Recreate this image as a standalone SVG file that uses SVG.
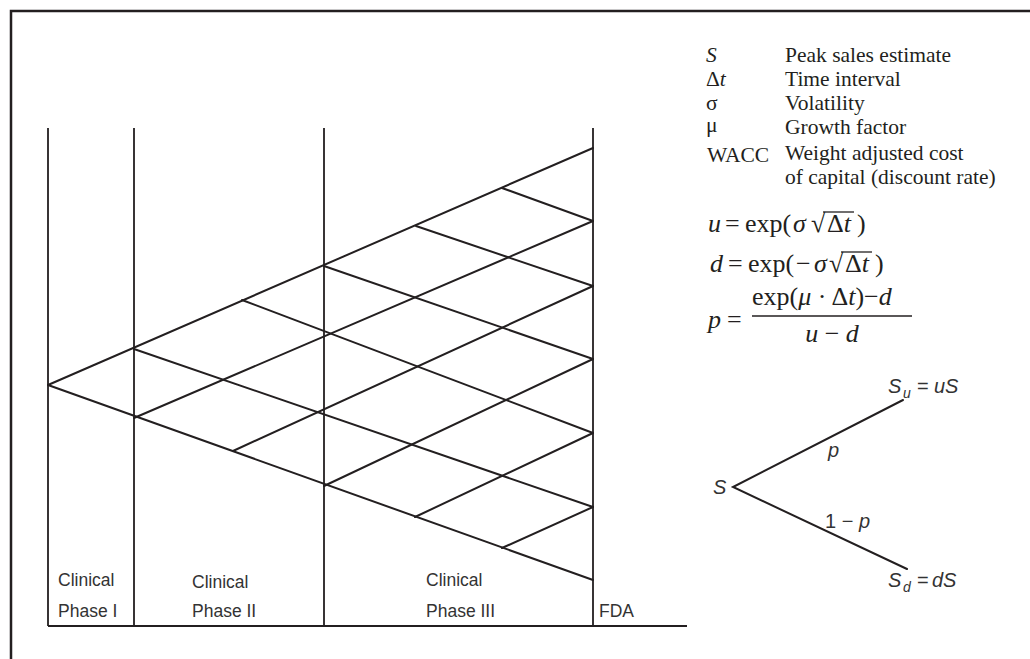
<svg xmlns="http://www.w3.org/2000/svg" width="1030" height="659" viewBox="0 0 1030 659">
<style>
.ln{stroke:#231f20;stroke-width:2;fill:none;stroke-linecap:round}
.vl{stroke:#231f20;stroke-width:1.8;fill:none}
.ser{font-family:"Liberation Serif","Times New Roman",serif;fill:#231f20}
.lg{font-size:21.5px}
.fm{font-size:26px}
.it{font-style:italic}
.sans{font-family:"Liberation Sans",Arial,sans-serif;fill:#333}
.ph{font-size:17.5px}
.tr{font-size:20px;font-style:italic}
.sub{font-size:14px}
.bar{stroke:#231f20;stroke-width:1.3}
</style>
<rect width="1030" height="659" fill="#fff"/>
<g id="frame">
<path d="M11,659 V11 H1030" stroke="#231f20" stroke-width="2.5" fill="none"/>
</g>
<g id="connectors">
<path class="vl" d="M48,128 V626 M134,128 V626 M324,128 V626 M593,128 V626"/>
<path class="vl" stroke-width="1.5" d="M48,626 H687"/>
<path class="ln" d="M48,385 L593,148 M134,418 L593,221 M233,451 L593,286 M324,486 L593,359 M415,517 L593,433 M502,548 L593,507"/>
<path class="ln" d="M48,385 L593,580 M134,349 L593,507 M242,300 L593,433 M324,266 L593,359 M416,226 L593,286 M502,188 L593,221"/>
<path class="ln" d="M903,400 L733,487 L907,569"/>
</g>
<g id="legend" class="ser lg">
<text x="706" y="62" class="it">S</text><text x="785" y="62">Peak sales estimate</text>
<text x="706" y="86">Δ<tspan class="it">t</tspan></text><text x="785" y="86">Time interval</text>
<text x="706" y="110">σ</text><text x="785" y="110">Volatility</text>
<text x="706" y="132">μ</text><text x="785" y="134">Growth factor</text>
<text x="707" y="162">WACC</text><text x="785" y="160">Weight adjusted cost</text>
<text x="785" y="184">of capital (discount rate)</text>
</g>
<g id="formula-u" class="ser fm">
<text x="708" y="232" class="it">u</text>
<text x="725" y="232">=</text>
<text x="745" y="232">exp(</text>
<text x="793" y="232" class="it">σ</text>
<text x="811" y="232">√</text>
<line class="bar" x1="823" y1="212" x2="854" y2="212"/>
<text x="827" y="232">Δ<tspan class="it">t</tspan></text>
<text x="857" y="232">)</text>
</g>
<g id="formula-d" class="ser fm">
<text x="710" y="272" class="it">d</text>
<text x="728" y="272">=</text>
<text x="748" y="272">exp(</text>
<text x="796" y="272">−</text>
<text x="814" y="272" class="it">σ</text>
<text x="829" y="272">√</text>
<line class="bar" x1="841" y1="252" x2="872" y2="252"/>
<text x="845" y="272">Δ<tspan class="it">t</tspan></text>
<text x="875" y="272">)</text>
</g>
<g id="formula-p" class="ser fm">
<text x="708" y="328" class="it">p</text>
<text x="727" y="328">=</text>
<text x="752" y="305">exp(<tspan class="it">μ</tspan> · Δ<tspan class="it">t</tspan>)−<tspan class="it">d</tspan></text>
<line class="bar" x1="752" y1="316" x2="912" y2="316"/>
<text x="832" y="342" text-anchor="middle"><tspan class="it">u</tspan> − <tspan class="it">d</tspan></text>
</g>
<g id="tree-S" class="sans tr"><text x="713" y="494">S</text></g>
<g id="tree-Su" class="sans tr"><text x="888" y="393">S</text><text x="903" y="398" class="sub">u</text><text x="917" y="393" font-style="normal">=</text><text x="934" y="393">uS</text></g>
<g id="tree-Sd" class="sans tr"><text x="888" y="587">S</text><text x="903" y="592" class="sub">d</text><text x="917" y="587" font-style="normal">=</text><text x="932" y="587">dS</text></g>
<g id="tree-p" class="sans tr"><text x="828" y="457">p</text></g>
<g id="tree-1p" class="sans tr"><text x="825" y="528"><tspan font-style="normal">1 − </tspan>p</text></g>
<g id="phase1" class="sans ph"><text x="58" y="586">Clinical</text><text x="58" y="617">Phase I</text></g>
<g id="phase2" class="sans ph"><text x="192" y="588">Clinical</text><text x="192" y="617">Phase II</text></g>
<g id="phase3" class="sans ph"><text x="426" y="586">Clinical</text><text x="426" y="617">Phase III</text></g>
<g id="fda" class="sans ph"><text x="599" y="617">FDA</text></g>
</svg>
